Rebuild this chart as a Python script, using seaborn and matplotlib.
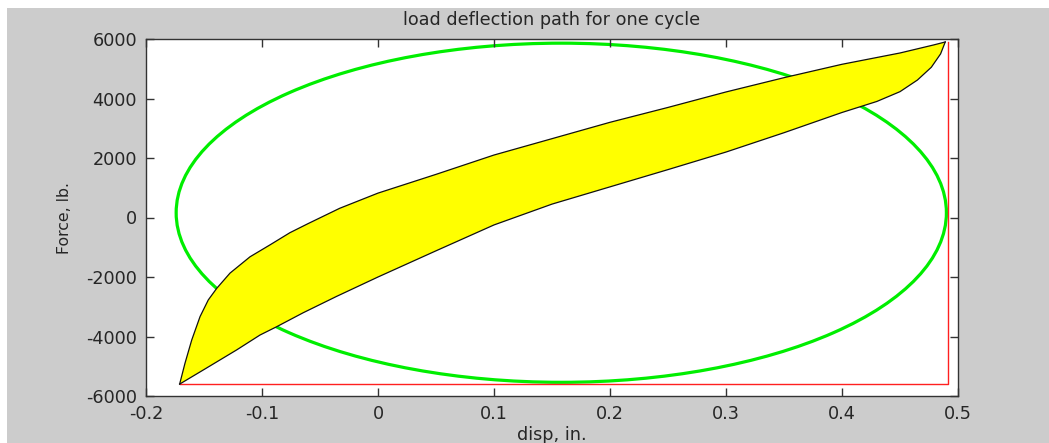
import matplotlib
matplotlib.use("Agg")
import matplotlib.pyplot as plt
from matplotlib.patches import Ellipse, Rectangle
import seaborn as sns

# Loading branch of the hysteresis loop (upper / left edge)
load_disp = [-0.171, -0.1664, -0.1606, -0.1534, -0.1463, -0.139, -0.1276, -0.1103,
             -0.0931, -0.0759, -0.060, -0.033, 0.000, 0.050, 0.100, 0.150,
             0.200, 0.250, 0.300, 0.350, 0.400, 0.450, 0.479, 0.489]
load_force = [-5600, -4900, -4120, -3330, -2770, -2380, -1870, -1320,
              -920, -510, -200, 310, 820, 1450, 2100, 2650,
              3200, 3700, 4220, 4700, 5150, 5530, 5800, 5900]

# Unloading branch of the hysteresis loop (lower / right edge)
unload_disp = [-0.171, -0.1506, -0.1218, -0.1017, -0.0873, -0.0644, -0.0356, 0.000,
               0.050, 0.100, 0.150, 0.200, 0.250, 0.300, 0.350, 0.400,
               0.430, 0.450, 0.465, 0.477, 0.485, 0.489]
unload_force = [-5600, -5125, -4450, -3950, -3670, -3200, -2650, -2000,
                -1120, -250, 450, 1030, 1610, 2200, 2850, 3530,
                3900, 4230, 4620, 5050, 5500, 5900]

# Elliptical load path of an equivalent linear damper
ellipse_center = (0.158, 160)
ellipse_width = 0.664
ellipse_height = 11400

# Peak displacement / force envelope
frame_disp = [-0.171, 0.491, 0.491]
frame_force = [-5600, -5600, 5900]

x_ticks = [-0.2, -0.1, 0.0, 0.1, 0.2, 0.3, 0.4, 0.5]
x_tick_labels = ["-0.2", "-0.1", "0", "0.1", "0.2", "0.3", "0.4", "0.5"]
y_ticks = [-6000, -4000, -2000, 0, 2000, 4000, 6000]
y_tick_labels = ["-6000", "-4000", "-2000", "0", "2000", "4000", "6000"]

plt.rcParams["axes.unicode_minus"] = False
plt.rcParams["font.family"] = ["DejaVu Sans"]
text_color = "#262626"
fs = 12.7

W, H = 1049, 443
fig = plt.figure(figsize=(W / 100, H / 100), dpi=100, facecolor="white")
# grey figure panel
fig.patches.append(Rectangle((7 / W, 0), 1, (H - 8) / H, transform=fig.transFigure,
                             facecolor="#cccccc", edgecolor="none", zorder=-10))

ax = fig.add_axes([146 / W, 47 / H, 812 / W, 357 / H])
ax.set_facecolor("white")

# green ellipse
ax.add_patch(Ellipse(ellipse_center, ellipse_width, ellipse_height,
                     facecolor="none", edgecolor="#00ee00", lw=2.3, zorder=1))

# red envelope
sns.lineplot(x=frame_disp, y=frame_force, sort=False, estimator=None,
             color="#ff2020", lw=1.0, ax=ax, zorder=2)

# yellow loop
loop_x = load_disp + unload_disp[::-1]
loop_y = load_force + unload_force[::-1]
ax.fill(loop_x, loop_y, facecolor="#ffff00", edgecolor="none", zorder=3)
sns.lineplot(x=load_disp, y=load_force, sort=False, estimator=None,
             color="#111111", lw=0.9, ax=ax, zorder=4)
sns.lineplot(x=unload_disp, y=unload_force, sort=False, estimator=None,
             color="#111111", lw=0.9, ax=ax, zorder=4)

ax.set_xlim(-0.2, 0.5)
ax.set_ylim(-6000, 6000)
ax.set_xticks(x_ticks)
ax.set_xticklabels(x_tick_labels)
ax.set_yticks(y_ticks)
ax.set_yticklabels(y_tick_labels)

for s in ax.spines.values():
    s.set_color("#333333")
    s.set_linewidth(1.0)
ax.tick_params(direction="in", length=6, width=1.0, color="#333333",
               top=True, right=True, labelsize=fs, labelcolor=text_color)
ax.tick_params(axis="x", pad=6.5)
ax.tick_params(axis="y", pad=6.5)

ax.set_title("load deflection path for one cycle", fontsize=fs, color=text_color, pad=10)
ax.set_xlabel("disp, in.", fontsize=fs, color=text_color, labelpad=2)
ax.set_ylabel("Force, lb.", fontsize=11.3, color=text_color, labelpad=10)

fig.savefig("out.png", dpi=100, facecolor=fig.get_facecolor())
